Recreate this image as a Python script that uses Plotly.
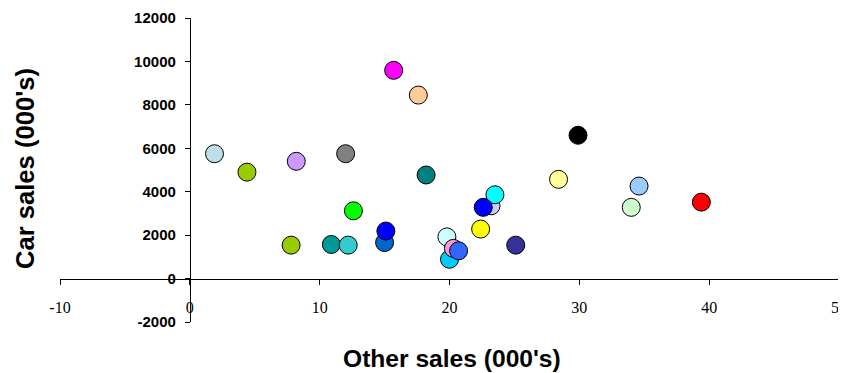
import plotly.graph_objects as go

# Data
other_sales = [1.9, 4.4, 8.2, 12.0, 18.2, 12.6, 7.8, 10.9, 12.2, 15.0, 15.1,
               19.8, 20.0, 20.3, 20.7, 22.4, 23.2, 23.5, 22.6, 25.1,
               15.7, 17.6, 29.9, 28.4, 34.6, 34.0, 39.4]
car_sales = [5750, 4900, 5400, 5750, 4770, 3120, 1540, 1570, 1540, 1660, 2190,
             1920, 890, 1390, 1280, 2280, 3350, 3860, 3280, 1540,
             9590, 8450, 6600, 4570, 4260, 3280, 3520]
point_colors = ["#BDE0E6", "#99CC00", "#CC99FF", "#808080", "#008080", "#00FF00",
                "#99CC00", "#009999", "#33CCCC", "#0066CC", "#0000FF",
                "#CCFFFF", "#00CCFF", "#FF99CC", "#3366FF", "#FFFF00", "#CCCCFF",
                "#00FFFF", "#0000FF", "#333399",
                "#FF00FF", "#FFCC99", "#000000", "#FFFF99", "#99CCFF", "#CCFFCC",
                "#FF0000"]

x_tickvals = [-10, 0, 10, 20, 30, 40, 50]
x_ticktext = ["-10", "0", "10", "20", "30", "40", "50"]
y_tickvals = [-2000, 0, 2000, 4000, 6000, 8000, 10000, 12000]
y_ticktext = ["-2000", "0", "2000", "4000", "6000", "8000", "10000", "12000"]

x_title = "Other sales (000's)"
y_title = "Car sales (000's)"

# the page body adds an 8px offset; size the figure so the plot lands where the reference has it
OFF = 8
W, H = 846 - OFF, 373 - OFF
L, R, T, B = 60 - OFF, 7, 18 - OFF, 51
pw, ph = W - L - R, H - T - B


def px_to_paper(px, py):
    return ((px - OFF) - L) / pw, (H - B - (py - OFF)) / ph


fig = go.Figure()
fig.add_trace(go.Scatter(
    x=other_sales, y=car_sales, mode="markers",
    marker=dict(size=18, color=point_colors, line=dict(color="black", width=1)),
    showlegend=False, hoverinfo="x+y",
))

xr = [x_tickvals[0], x_tickvals[-1] + 0.001]
yr = [y_tickvals[0], y_tickvals[-1]]

xt_x, xt_y = px_to_paper(451.7, 358)
yt_x, yt_y = px_to_paper(24.5, 168.5)

fig.update_layout(
    width=W, height=H,
    margin=dict(l=L, r=R, t=T, b=B),
    paper_bgcolor="white", plot_bgcolor="white",
    xaxis=dict(
        range=xr, tickvals=x_tickvals, ticktext=x_ticktext,
        showgrid=False, zeroline=False, showline=True, linecolor="black", linewidth=1,
        ticks="outside", ticklen=5, tickcolor="black", tickwidth=1,
        tickfont=dict(family="Liberation Serif", size=16, color="black"),
        anchor="free", position=(0 - yr[0]) / (yr[1] - yr[0]),
        ticklabelstandoff=9, automargin=False, ticklabeloverflow="allow",
    ),
    yaxis=dict(
        range=yr, tickvals=y_tickvals, ticktext=y_ticktext,
        showgrid=False, zeroline=False, showline=True, linecolor="black", linewidth=1,
        ticks="outside", ticklen=5, tickcolor="black", tickwidth=1,
        tickfont=dict(family="Liberation Sans", size=15, color="black", weight="bold"),
        anchor="free", position=(0 - xr[0]) / (x_tickvals[-1] - xr[0]),
        ticklabelstandoff=6, automargin=False,
    ),
    annotations=[
        dict(text="<b>" + x_title + "</b>", xref="paper", yref="paper",
             x=xt_x, y=xt_y, xanchor="center", yanchor="middle",
             showarrow=False, font=dict(family="Liberation Sans", size=24.6, color="black")),
        dict(text="<b>" + y_title + "</b>", xref="paper", yref="paper",
             x=yt_x, y=yt_y, xanchor="center", yanchor="middle",
             textangle=-90, showarrow=False,
             font=dict(family="Liberation Sans", size=25.6, color="black")),
    ],
)

fig.write_html("out.html")
